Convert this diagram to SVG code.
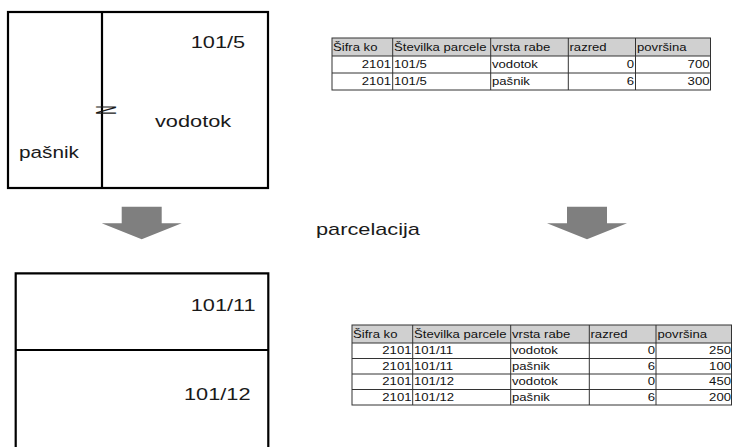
<svg xmlns="http://www.w3.org/2000/svg" width="733" height="447" viewBox="0 0 733 447">
<style>
.box{fill:none;stroke:#000;stroke-width:2.2}
.lbl{font-family:"Liberation Sans",Arial,sans-serif;font-size:17px;fill:#1a1a1a}
.t{font-family:"Liberation Sans",Arial,sans-serif;font-size:10.5px;fill:#111}
.r{text-anchor:end}
.hdr{fill:#d0d0d0}
.grid{stroke:#333;stroke-width:1;fill:none}
.arrow{fill:#7f7f7f}
</style>
<rect width="733" height="447" fill="#fff"/>

<g id="parcel-before">
  <rect class="box" x="8" y="12" width="260" height="176"/>
  <line class="box" x1="102" y1="12" x2="102" y2="188"/>
  <text class="lbl" transform="translate(190.7,47.7) scale(1.28,1)">101/5</text>
  <text class="lbl" transform="translate(155,127) scale(1.28,1)">vodotok</text>
  <text class="lbl" transform="translate(19,158) scale(1.22,1)">pašnik</text>
  <text class="lbl" text-anchor="middle" transform="translate(105.5,110) rotate(90) scale(0.75,1.7)" y="5.7" font-size="16">N</text>
</g>

<g id="parcel-after">
  <path class="box" d="M15.7,460 V273.3 H268.3 V460"/>
  <line class="box" x1="15.7" y1="350" x2="268.3" y2="350"/>
  <text class="lbl" transform="translate(190.7,310.7) scale(1.28,1)">101/11</text>
  <text class="lbl" transform="translate(184,400) scale(1.28,1)">101/12</text>
</g>

<g id="table-before">
  <rect class="hdr" x="332" y="38" width="378.5" height="18"/>
  <g class="grid">
    <rect x="332" y="38" width="378.5" height="52"/>
    <line x1="332" y1="56" x2="710.5" y2="56"/>
    <line x1="332" y1="73" x2="710.5" y2="73"/>
    <line x1="392.7" y1="38" x2="392.7" y2="90"/>
    <line x1="490.7" y1="38" x2="490.7" y2="90"/>
    <line x1="568.3" y1="38" x2="568.3" y2="90"/>
    <line x1="635.5" y1="38" x2="635.5" y2="90"/>
  </g>
  <g transform="translate(332,0) scale(1.25,1)">
    <text class="t" x="0.8" y="51">Šifra ko</text>
    <text class="t" x="49.6" y="51">Številka parcele</text>
    <text class="t" x="128" y="51">vrsta rabe</text>
    <text class="t" x="190" y="51">razred</text>
    <text class="t" x="244" y="51">površina</text>
    <text class="t r" x="47.2" y="68.5">2101</text>
    <text class="t" x="49.6" y="68.5">101/5</text>
    <text class="t" x="128" y="68.5">vodotok</text>
    <text class="t r" x="241.6" y="68.5">0</text>
    <text class="t r" x="302" y="68.5">700</text>
    <text class="t r" x="47.2" y="85.5">2101</text>
    <text class="t" x="49.6" y="85.5">101/5</text>
    <text class="t" x="128" y="85.5">pašnik</text>
    <text class="t r" x="241.6" y="85.5">6</text>
    <text class="t r" x="302" y="85.5">300</text>
  </g>
</g>

<g id="table-after">
  <rect class="hdr" x="352" y="325" width="379.5" height="18"/>
  <g class="grid">
    <rect x="352" y="325" width="379.5" height="80"/>
    <line x1="352" y1="343" x2="731.5" y2="343"/>
    <line x1="352" y1="358.5" x2="731.5" y2="358.5"/>
    <line x1="352" y1="374" x2="731.5" y2="374"/>
    <line x1="352" y1="389.5" x2="731.5" y2="389.5"/>
    <line x1="412.7" y1="325" x2="412.7" y2="405"/>
    <line x1="510.7" y1="325" x2="510.7" y2="405"/>
    <line x1="589.3" y1="325" x2="589.3" y2="405"/>
    <line x1="656" y1="325" x2="656" y2="405"/>
  </g>
  <g transform="translate(352,0) scale(1.25,1)">
    <text class="t" x="0.8" y="338">Šifra ko</text>
    <text class="t" x="49.6" y="338">Številka parcele</text>
    <text class="t" x="128" y="338">vrsta rabe</text>
    <text class="t" x="190.8" y="338">razred</text>
    <text class="t" x="244.4" y="338">površina</text>
    <text class="t r" x="47.6" y="354.5">2101</text>
    <text class="t" x="49.6" y="354.5">101/11</text>
    <text class="t" x="128" y="354.5">vodotok</text>
    <text class="t r" x="242.4" y="354.5">0</text>
    <text class="t r" x="303.2" y="354.5">250</text>
    <text class="t r" x="47.6" y="370">2101</text>
    <text class="t" x="49.6" y="370">101/11</text>
    <text class="t" x="128" y="370">pašnik</text>
    <text class="t r" x="242.4" y="370">6</text>
    <text class="t r" x="303.2" y="370">100</text>
    <text class="t r" x="47.6" y="385.5">2101</text>
    <text class="t" x="49.6" y="385.5">101/12</text>
    <text class="t" x="128" y="385.5">vodotok</text>
    <text class="t r" x="242.4" y="385.5">0</text>
    <text class="t r" x="303.2" y="385.5">450</text>
    <text class="t r" x="47.6" y="401">2101</text>
    <text class="t" x="49.6" y="401">101/12</text>
    <text class="t" x="128" y="401">pašnik</text>
    <text class="t r" x="242.4" y="401">6</text>
    <text class="t r" x="303.2" y="401">200</text>
  </g>
</g>

<g id="connectors">
  <polygon class="arrow" points="121.7,206.7 161.7,206.7 161.7,223.3 181.7,223.3 141.7,239.3 101.7,223.3 121.7,223.3"/>
  <polygon class="arrow" points="567,206.7 607,206.7 607,223.3 627,223.3 587,239.3 547,223.3 567,223.3"/>
  <text class="lbl" transform="translate(316,235) scale(1.28,1)">parcelacija</text>
</g>
</svg>
